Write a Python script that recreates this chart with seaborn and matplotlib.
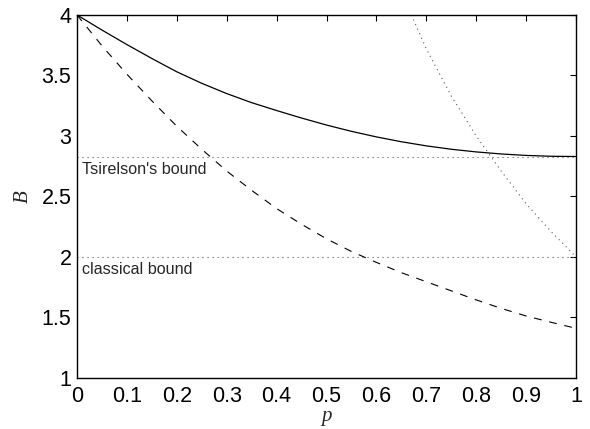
import matplotlib
matplotlib.use('Agg')
import matplotlib.pyplot as plt
import seaborn as sns

# values
p_grid = [0.0, 0.05, 0.1, 0.15, 0.2, 0.25, 0.3, 0.35, 0.4, 0.45, 0.5,
          0.55, 0.6, 0.65, 0.7, 0.75, 0.8, 0.85, 0.9, 0.95, 1.0]
b_solid = [4.00, 3.875, 3.755, 3.64, 3.53, 3.435, 3.35, 3.275, 3.21, 3.148, 3.09,
           3.038, 2.992, 2.952, 2.918, 2.89, 2.868, 2.851, 2.839, 2.832, 2.83]
b_dashed = [4.00, 3.745, 3.51, 3.29, 3.08, 2.89, 2.71, 2.55, 2.40, 2.27, 2.15,
            2.045, 1.955, 1.87, 1.795, 1.72, 1.645, 1.575, 1.512, 1.46, 1.41]
p_dotted = [0.67, 0.70, 0.75, 0.80, 0.85, 0.90, 0.95, 1.0]
b_dotted = [4.00, 3.72, 3.33, 3.00, 2.71, 2.44, 2.21, 2.00]

bound_p = [0.0, 1.0]
tsirelson_b = 2.83
classical_b = 2.0

x_ticks = [0, 0.1, 0.2, 0.3, 0.4, 0.5, 0.6, 0.7, 0.8, 0.9, 1]
x_tick_labels = ['0', '0.1', '0.2', '0.3', '0.4', '0.5', '0.6', '0.7', '0.8', '0.9', '1']
y_ticks = [1, 1.5, 2, 2.5, 3, 3.5, 4]
y_tick_labels = ['1', '1.5', '2', '2.5', '3', '3.5', '4']

sns.set_style('white')
plt.rcParams['font.family'] = ['Liberation Sans', 'DejaVu Sans']

fig = plt.figure(figsize=(5.9, 4.29), dpi=100)
ax = fig.add_axes([0.1305, 0.119, 0.8458, 0.8462])

dots = (0, (1, 3.5))
sns.lineplot(x=p_grid, y=b_solid, color='black', lw=0.9, ax=ax)
sns.lineplot(x=p_grid, y=b_dashed, color='black', lw=0.8, linestyle=(0, (7, 7)), ax=ax)
sns.lineplot(x=p_dotted, y=b_dotted, color='0.35', lw=0.8, linestyle=dots, ax=ax)
sns.lineplot(x=bound_p, y=[tsirelson_b] * 2, color='0.35', lw=0.8, linestyle=dots, ax=ax)
sns.lineplot(x=bound_p, y=[classical_b] * 2, color='0.35', lw=0.8, linestyle=dots, ax=ax)

ax.text(0.01, tsirelson_b - 0.045, "Tsirelson's bound", fontsize=11.6, va='top', ha='left', color='0.15')
ax.text(0.01, classical_b - 0.045, 'classical bound', fontsize=11.6, va='top', ha='left', color='0.15')

ax.set_xlim(0, 1)
ax.set_ylim(1, 4)
ax.set_xticks(x_ticks)
ax.set_xticklabels(x_tick_labels)
ax.set_yticks(y_ticks)
ax.set_yticklabels(y_tick_labels)
ax.tick_params(direction='in', length=4, width=0.8, labelsize=15.5,
               top=True, right=True, colors='black')
ax.tick_params(axis='x', pad=6)
ax.tick_params(axis='y', pad=4)

ax.set_xlabel('p', fontsize=15, family='Liberation Serif', style='italic', labelpad=0)
ax.set_ylabel('B', fontsize=15, family='Liberation Serif', style='italic', labelpad=6)

for s in ax.spines.values():
    s.set_color('black')
    s.set_linewidth(1.0)

fig.savefig('out.png', dpi=100)
